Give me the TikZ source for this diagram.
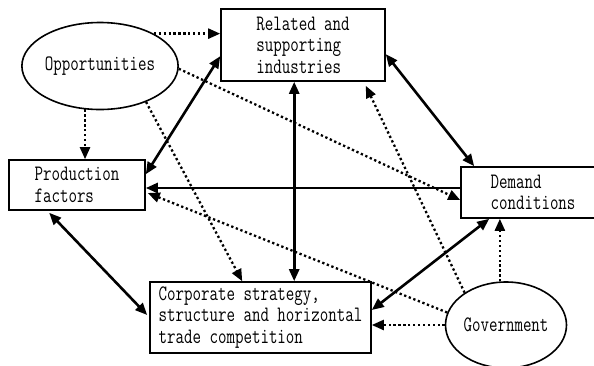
\documentclass[tikz,border=0pt]{standalone}
\usepackage{fontspec}
\setmainfont{Latin Modern Mono}[FakeStretch=0.75]
\usetikzlibrary{arrows.meta,shapes.geometric,calc}
\begin{document}
\begin{tikzpicture}[x=1pt,y=-1pt,
  font=\fontsize{22}{21.5}\selectfont,
  box/.style={draw, line width=1.6pt, align=left, inner sep=0pt},
  oval/.style={draw, ellipse, line width=1.6pt, inner sep=0pt},
  tip/.tip={Triangle[length=12pt,width=10pt]},
  link/.style={line width=2.6pt, -tip},
  both/.style={line width=2.6pt, tip-tip},
  hint/.style={line width=2.3pt, dash pattern=on 2.3pt off 2.6pt, -tip}]
\useasboundingbox (0,0) rectangle (594,365);

% the four determinants
\node[box, minimum width=164pt, minimum height=72pt] (rel) at (303,45)
  {Related and\\supporting\\industries};
\node[box, minimum width=136pt, minimum height=50pt] (prod) at (77,185)
  {Production\\factors};
\node[box, minimum width=144pt, minimum height=51pt] (dem) at (533,192.5)
  {Demand\\conditions};
\node[box, minimum width=221pt, minimum height=71pt] (corp) at (260.5,317.5)
  {Corporate strategy,\\structure and horizontal\\trade competition};

% the two outside influences
\node[oval, minimum width=123pt, minimum height=87pt] (opp) at (100,66) {Opportunities};
\node[oval, minimum width=121pt, minimum height=86pt] (gov) at (506,325) {Government};

% attachment points
\coordinate (relB) at ($(rel.south west)+(74,0)$);
\coordinate (demW) at ($(dem.west)+(0,-4.5)$);

% solid links between determinants
\draw[both] ($(rel.north west)+(0,48)$) -- ($(prod.north east)+(0,15)$);
\draw[both] (relB) -- (relB |- corp.north);
\draw[both] ($(rel.north east)+(0,46)$) -- ($(dem.north west)+(14,0)$);
\draw[link] (demW) -- (demW -| prod.east);
\draw[both] ($(corp.east)+(0,-7.5)$) -- ($(dem.south west)+(29,0)$);
\draw[both] ($(prod.south west)+(41,2)$) -- ($(corp.west)+(-2,-2.5)$);

% dotted influences of opportunities
\draw[hint] (opp.31) -- (opp.31 -| rel.west);
\draw[hint] (opp.-2) -- ($(dem.west)+(0,7.5)$);
\draw[hint] (opp.-109) -- (opp.-109 |- prod.north);
\draw[hint] (opp.-38) -- ($(corp.north west)+(93,0)$);

% dotted influences of government
\draw[hint] (gov.142) -- ($(rel.south east)+(-20,4)$);
\draw[hint] (gov.168) -- ($(prod.east)+(2,8)$);
\draw[hint] (gov.west) -- (gov.west -| corp.east);
\draw[hint] (gov.98) -- (gov.98 |- dem.south);
\end{tikzpicture}
\end{document}
